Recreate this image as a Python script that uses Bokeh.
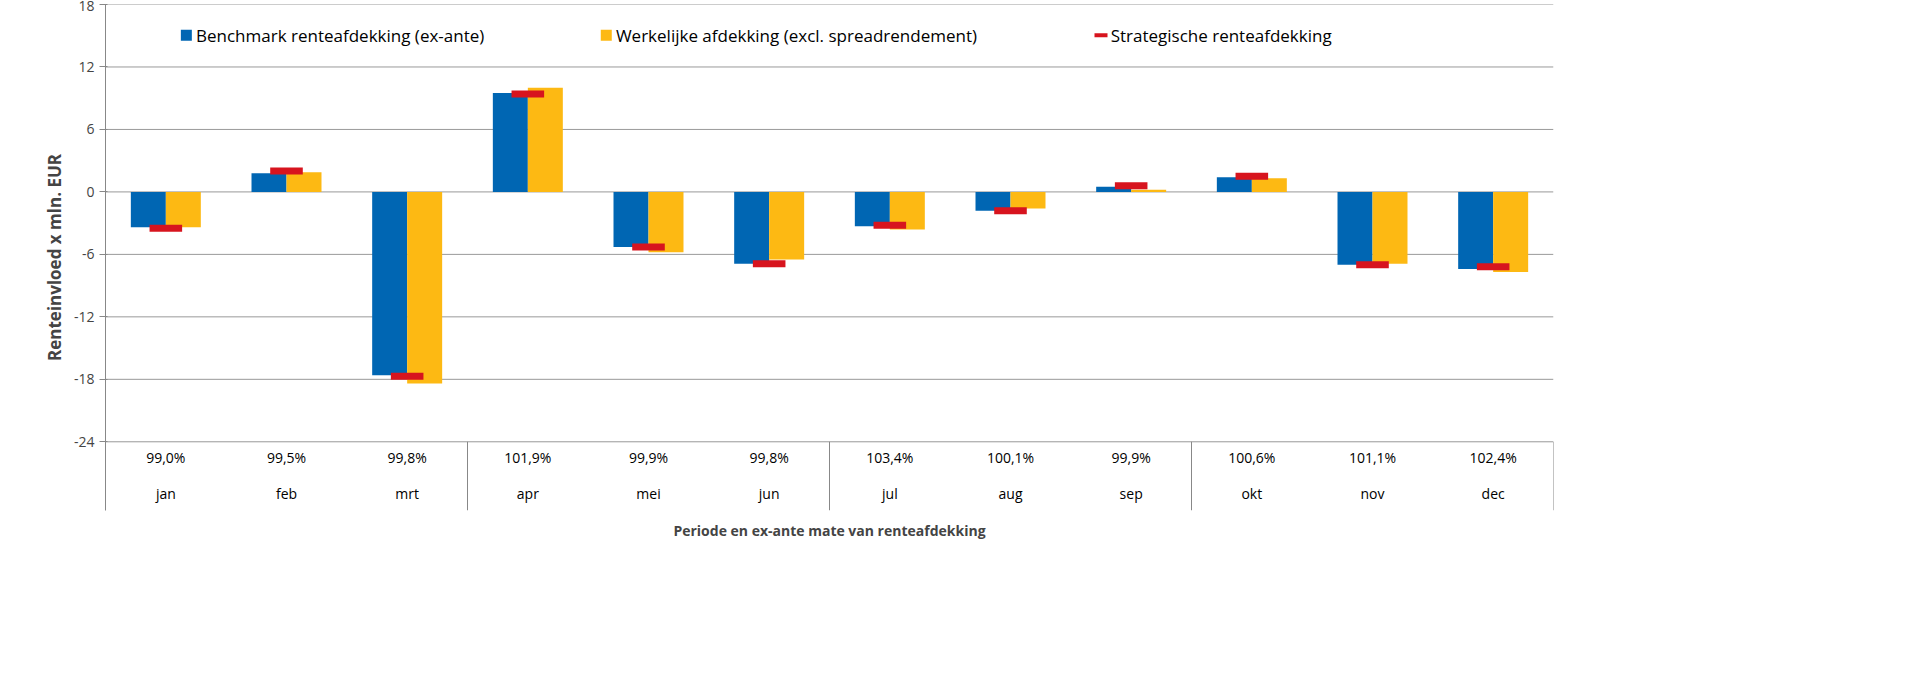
from bokeh.plotting import figure
from bokeh.models import FixedTicker, Range1d, ColumnDataSource, CustomJSTickFormatter
from bokeh.core.properties import value
from bokeh.embed import file_html
from bokeh.resources import INLINE

months = ["jan","feb","mrt","apr","mei","jun","jul","aug","sep","okt","nov","dec"]
pct = ["99,0%","99,5%","99,8%","101,9%","99,9%","99,8%","103,4%","100,1%","99,9%","100,6%","101,1%","102,4%"]
benchmark = [-3.4,1.8,-17.6,9.5,-5.3,-6.9,-3.3,-1.8,0.5,1.4,-7.0,-7.4]
werkelijk = [-3.4,1.9,-18.4,10.0,-5.8,-6.5,-3.6,-1.6,0.2,1.3,-6.9,-7.7]
strategisch = [-3.5,2.0,-17.7,9.4,-5.3,-6.9,-3.2,-1.8,0.6,1.5,-7.0,-7.2]

FONT = "Open Sans"
p = figure(width=1560, height=565, output_backend="svg", toolbar_location=None,
           x_range=Range1d(0, 12), y_range=Range1d(-30.6, 18),
           min_border_left=105, min_border_right=7, min_border_top=4, min_border_bottom=55)
p.outline_line_color = None
p.xgrid.visible = False
p.ygrid.visible = False
p.yaxis.ticker = FixedTicker(ticks=[-24,-18,-12,-6,0,6,12,18])
p.yaxis.formatter = CustomJSTickFormatter(code="return String(tick);")
p.yaxis.major_label_text_font = FONT
p.yaxis.major_label_text_font_size = "14px"
p.yaxis.major_tick_line_color = "#888888"
p.yaxis.minor_tick_line_color = None
p.yaxis.axis_line_color = "#888888"
p.yaxis.axis_label = "Renteinvloed x mln. EUR"
p.yaxis.axis_label_text_font = FONT
p.yaxis.axis_label_text_font_style = "bold"
p.yaxis.axis_label_text_font_size = "17px"
p.xaxis.ticker = FixedTicker(ticks=[])
p.xaxis.axis_line_color = None
p.xaxis.major_tick_line_color = None
p.xaxis.minor_tick_line_color = None
p.xaxis.axis_label = "Periode en ex-ante mate van renteafdekking"
p.xaxis.axis_label_text_font = FONT
p.xaxis.axis_label_text_font_style = "bold"
p.xaxis.axis_label_text_font_size = "14px"
p.xaxis.axis_label_standoff = 10

grid = [-24,-18,-12,-6,0,6,12,18]
p.segment(x0=[0]*len(grid), x1=[12]*len(grid), y0=grid, y1=grid, line_color="#999999", line_width=1)
p.segment(x0=[3,6,9,12], x1=[3,6,9,12], y0=[-24]*4, y1=[-30.6]*4, line_color="#888888", line_width=1)

xs = [i + 0.5 for i in range(12)]
src = ColumnDataSource(dict(xb=[x-0.145 for x in xs], xw=[x+0.145 for x in xs], x=xs,
                            b=benchmark, w=werkelijk, s=strategisch, m=months, pc=pct))
p.vbar(x="xb", top="b", bottom=0, width=0.29, source=src, fill_color="#0066B3", line_color=None)
p.vbar(x="xw", top="w", bottom=0, width=0.29, source=src, fill_color="#FDB913", line_color=None)
p.rect(x="x", y="s", width=0.27, height=7, height_units="screen", source=src,
       fill_color="#D7141E", line_color=None)
p.text(x="x", y=-25.5, text="pc", source=src, text_align="center", text_baseline="middle",
       text_font=value(FONT), text_font_size="14px", text_color="#000000")
p.text(x="x", y=-29.0, text="m", source=src, text_align="center", text_baseline="middle",
       text_font=value(FONT), text_font_size="14px", text_color="#000000")

lx = [0.67, 4.15, 8.25]
labels = ["Benchmark renteafdekking (ex-ante)", "Werkelijke afdekking (excl. spreadrendement)", "Strategische renteafdekking"]
p.rect(x=lx[:2], y=[15.05]*2, width=11, height=11, width_units="screen", height_units="screen",
       fill_color=["#0066B3", "#FDB913"], line_color=None)
p.rect(x=[lx[2]], y=[15.05], width=13, height=4, width_units="screen", height_units="screen",
       fill_color="#D7141E", line_color=None)
p.text(x=[x + 0.08 for x in lx], y=[15.05]*3, text=labels, text_baseline="middle",
       text_font=value(FONT), text_font_size="17px", text_color="#000000")

open("out.html", "w").write(file_html(p, INLINE))
